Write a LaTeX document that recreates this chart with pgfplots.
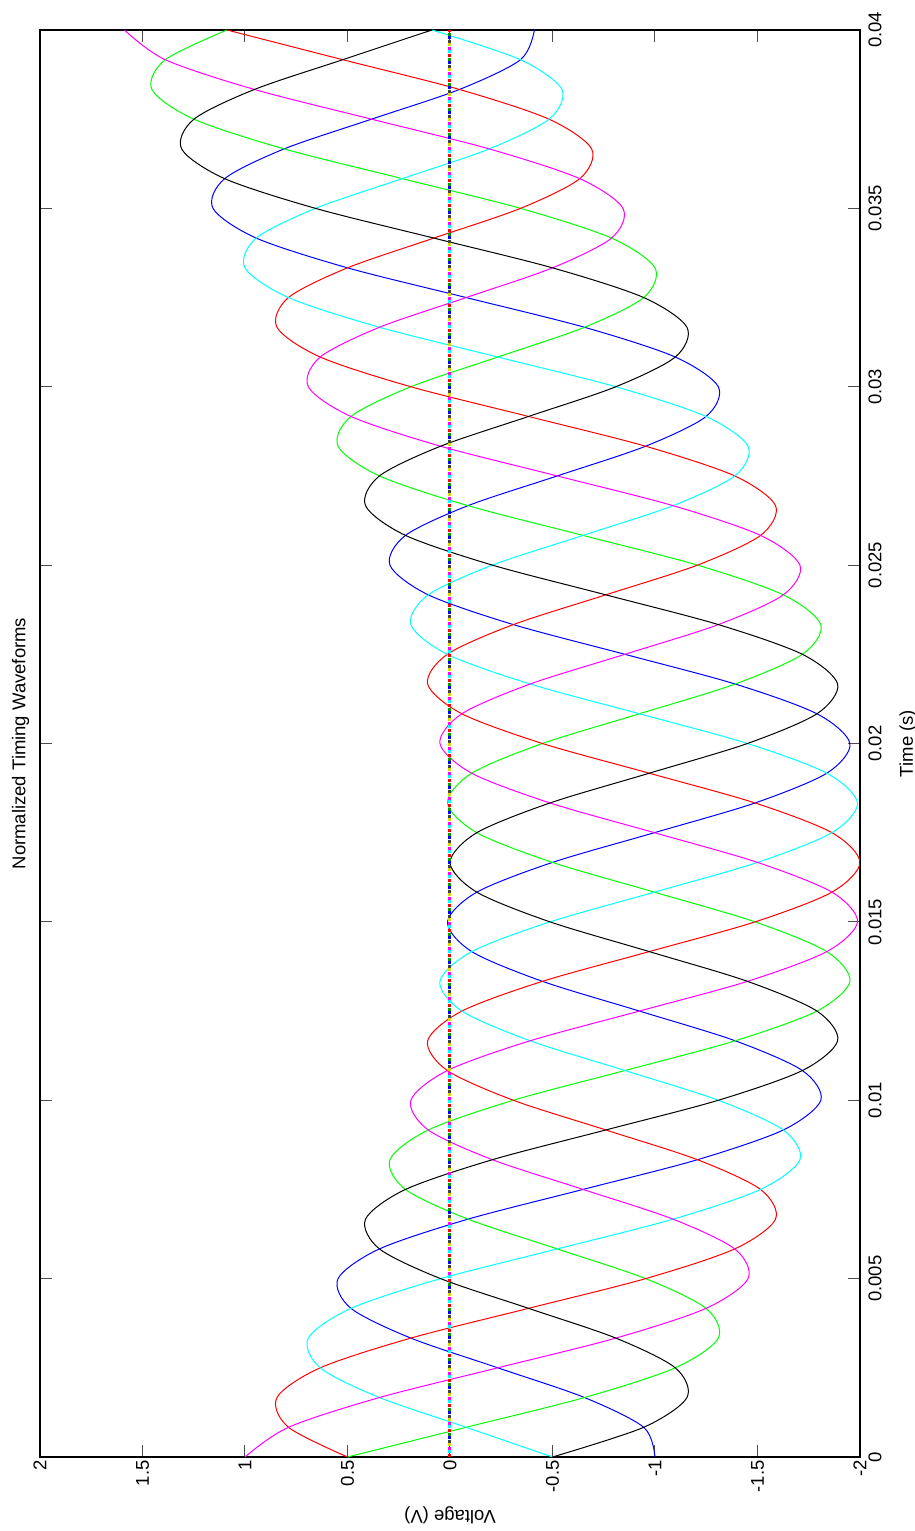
\documentclass[border=0pt]{standalone}
\usepackage{pgfplots}
\usepackage{pgfplotstable}
\pgfplotsset{compat=1.18}
\usepackage{fontspec}
\setmainfont{Liberation Sans}
\definecolor{mblue}{rgb}{0,0,1}
\definecolor{mgreen}{rgb}{0,1,0}
\definecolor{mred}{rgb}{1,0,0}
\definecolor{mcyan}{rgb}{0,1,1}
\definecolor{mmag}{rgb}{1,0,1}
\definecolor{myellow}{rgb}{0.85,0.85,0}
\definecolor{mblack}{rgb}{0,0,0}

\pgfplotstableread{
t m r c b k g
0 1.000 0.500 -0.500 -1.000 -0.500 0.500
0.000833 0.788 0.788 -0.079 -0.945 -0.945 -0.079
0.001667 0.344 0.844 0.344 -0.656 -1.156 -0.656
0.0025 -0.233 0.633 0.633 -0.233 -1.099 -1.099
0.003333 -0.809 0.191 0.691 0.191 -0.809 -1.309
0.004167 -1.249 -0.383 0.483 0.483 -0.383 -1.249
0.005 -1.454 -0.954 0.046 0.546 0.046 -0.954
0.005833 -1.389 -1.389 -0.523 0.344 0.344 -0.523
0.006667 -1.088 -1.588 -1.088 -0.088 0.412 -0.088
0.0075 -0.649 -1.515 -1.515 -0.649 0.217 0.217
0.008333 -0.207 -1.207 -1.707 -1.207 -0.207 0.293
0.009167 0.106 -0.760 -1.626 -1.626 -0.760 0.106
0.01 0.191 -0.309 -1.309 -1.809 -1.309 -0.309
0.010833 0.013 0.013 -0.853 -1.719 -1.719 -0.853
0.011667 -0.391 0.109 -0.391 -1.391 -1.891 -1.391
0.0125 -0.924 -0.058 -0.058 -0.924 -1.790 -1.790
0.013333 -1.451 -0.451 0.049 -0.451 -1.451 -1.951
0.014167 -1.838 -0.972 -0.106 -0.106 -0.972 -1.838
0.015 -1.988 -1.488 -0.488 0.012 -0.488 -1.488
0.015833 -1.863 -1.863 -0.997 -0.131 -0.131 -0.997
0.016667 -1.500 -2.000 -1.500 -0.500 0.000 -0.500
0.0175 -0.997 -1.863 -1.863 -0.997 -0.131 -0.131
0.018333 -0.488 -1.488 -1.988 -1.488 -0.488 0.012
0.019167 -0.106 -0.972 -1.838 -1.838 -0.972 -0.106
0.02 0.049 -0.451 -1.451 -1.951 -1.451 -0.451
0.020833 -0.058 -0.058 -0.924 -1.790 -1.790 -0.924
0.021667 -0.391 0.109 -0.391 -1.391 -1.891 -1.391
0.0225 -0.853 0.013 0.013 -0.853 -1.719 -1.719
0.023333 -1.309 -0.309 0.191 -0.309 -1.309 -1.809
0.024167 -1.626 -0.760 0.106 0.106 -0.760 -1.626
0.025 -1.707 -1.207 -0.207 0.293 -0.207 -1.207
0.025833 -1.515 -1.515 -0.649 0.217 0.217 -0.649
0.026667 -1.088 -1.588 -1.088 -0.088 0.412 -0.088
0.0275 -0.523 -1.389 -1.389 -0.523 0.344 0.344
0.028333 0.046 -0.954 -1.454 -0.954 0.046 0.546
0.029167 0.483 -0.383 -1.249 -1.249 -0.383 0.483
0.03 0.691 0.191 -0.809 -1.309 -0.809 0.191
0.030833 0.633 0.633 -0.233 -1.099 -1.099 -0.233
0.031667 0.344 0.844 0.344 -0.656 -1.156 -0.656
0.0325 -0.079 0.788 0.788 -0.079 -0.945 -0.945
0.033333 -0.500 0.500 1.000 0.500 -0.500 -1.000
0.034167 -0.788 0.079 0.945 0.945 0.079 -0.788
0.035 -0.844 -0.344 0.656 1.156 0.656 -0.344
0.035833 -0.633 -0.633 0.233 1.099 1.099 0.233
0.036667 -0.191 -0.691 -0.191 0.809 1.309 0.809
0.0375 0.383 -0.483 -0.483 0.383 1.249 1.249
0.038333 0.954 -0.046 -0.546 -0.046 0.954 1.454
0.039167 1.389 0.523 -0.344 -0.344 0.523 1.389
0.04 1.588 1.088 0.088 -0.412 0.088 1.088
}\wave

\begin{document}
\begin{tikzpicture}[font=\fontsize{9.25}{11}\selectfont]
\begin{axis}[
  at={(0,0)}, anchor=south west,
  scale only axis, width=410pt, height=713.5pt,
  x dir=reverse,
  xmin=-2, xmax=2, ymin=0, ymax=0.04,
  xtick={-2,-1.5,-1,-0.5,0,0.5,1,1.5,2},
  xticklabels={-2,-1.5,-1,-0.5,0,0.5,1,1.5,2},
  ytick={0,0.005,0.01,0.015,0.02,0.025,0.03,0.035,0.04},
  yticklabels={0,0.005,0.01,0.015,0.02,0.025,0.03,0.035,0.04},
  scaled y ticks=false, scaled x ticks=false,
  yticklabel pos=right,
  xticklabel style={rotate=90, anchor=east, inner sep=1.5pt},
  yticklabel style={rotate=90, anchor=north, inner sep=4pt},
  major tick length=6pt,
  tick style={line width=0.5pt, color=black!70},
  axis line style={line width=0.75pt},
  title={Normalized Timing Waveforms},
  xlabel={Voltage (V)},
  ylabel={Time (s)},
  every axis title/.style={at={(axis description cs:-0.0177,0.5)}, rotate=90, anchor=base, inner sep=0pt},
  every axis x label/.style={at={(axis description cs:0.5,-0.0378)}, rotate=180, anchor=base, inner sep=0pt},
  every axis y label/.style={at={(axis description cs:1.0646,0.5)}, rotate=90, anchor=base, inner sep=0pt},
  every axis plot/.append style={line width=0.5pt},
]
\addplot[mblue, smooth] table[x=b, y=t] {\wave};
\addplot[mgreen, smooth] table[x=g, y=t] {\wave};
\addplot[mred, smooth] table[x=r, y=t] {\wave};
\addplot[mcyan, smooth] table[x=c, y=t] {\wave};
\addplot[mmag, smooth] table[x=m, y=t] {\wave};
\addplot[mblack, smooth] table[x=k, y=t] {\wave};
\addplot[mred, line width=1.5pt, dash pattern=on 1.5pt off 11pt, dash phase=0pt] coordinates {(0,0) (0,0.04)};
\addplot[mcyan, line width=1.5pt, dash pattern=on 1.5pt off 11pt, dash phase=10.714pt] coordinates {(0,0) (0,0.04)};
\addplot[mmag, line width=1.5pt, dash pattern=on 1.5pt off 11pt, dash phase=8.929pt] coordinates {(0,0) (0,0.04)};
\addplot[myellow, line width=1.5pt, dash pattern=on 1.5pt off 11pt, dash phase=7.143pt] coordinates {(0,0) (0,0.04)};
\addplot[black!75, line width=1.5pt, dash pattern=on 1.5pt off 11pt, dash phase=5.357pt] coordinates {(0,0) (0,0.04)};
\addplot[mblue, line width=1.5pt, dash pattern=on 1.5pt off 11pt, dash phase=3.571pt] coordinates {(0,0) (0,0.04)};
\addplot[green!60!black, line width=1.5pt, dash pattern=on 1.5pt off 11pt, dash phase=1.786pt] coordinates {(0,0) (0,0.04)};
\end{axis}
\pgfresetboundingbox
\path[use as bounding box] (-20pt,-37pt) rectangle (437.5pt,728.5pt);
\end{tikzpicture}
\end{document}
